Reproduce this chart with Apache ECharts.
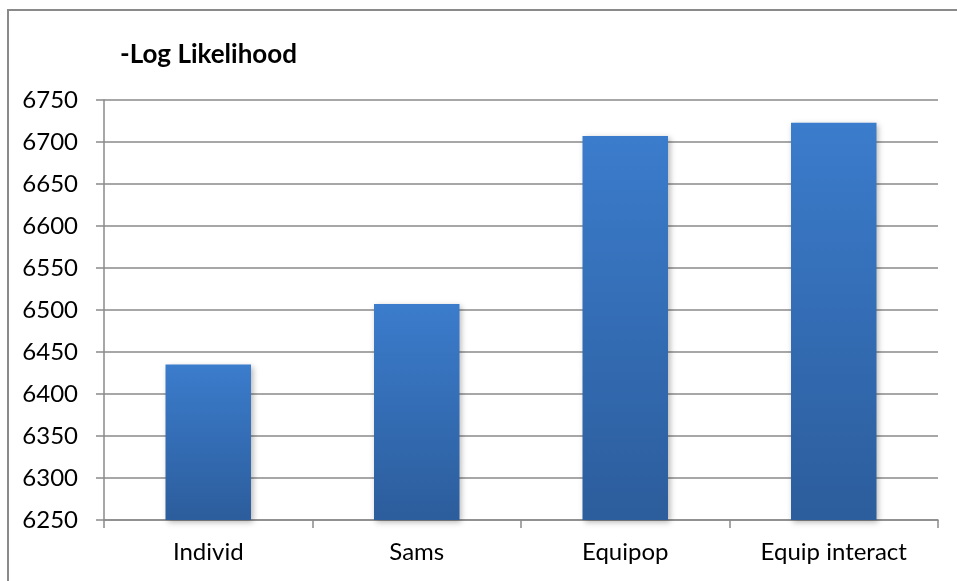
<!DOCTYPE html>
<html>
<head>
<meta charset="utf-8">
<script src="https://cdn.jsdelivr.net/npm/echarts@6/dist/echarts.min.js"></script>
<style>
  html, body { margin: 0; padding: 0; background: #fff; }
  #chart { width: 957px; height: 581px; }
</style>
</head>
<body>
<div id="chart"></div>
<script>
// data
var categories = ['Individ', 'Sams', 'Equipop', 'Equip interact']
var values = [6435, 6507, 6707, 6723]
var yMin = 6250
var yMax = 6750
var yStep = 50

var chart = echarts.init(document.getElementById('chart'))

chart.setOption({
  backgroundColor: '#ffffff',
  animation: false,
  textStyle: { fontFamily: 'Lato' },
  title: {
    text: '-Log Likelihood',
    left: 115,
    top: 37,
    textStyle: {
      fontFamily: 'Lato',
      fontWeight: 'bold',
      fontSize: 26,
      color: '#000'
    }
  },
  graphic: [{
    type: 'rect',
    shape: { x: 8, y: 10, width: 960, height: 600 },
    style: { fill: 'none', stroke: '#8a8a8a', lineWidth: 2 },
    z: -1
  }],
  grid: {
    left: 104,
    right: 19,
    top: 100,
    bottom: 61
  },
  xAxis: {
    type: 'category',
    data: categories,
    axisLine: { lineStyle: { color: '#8a8a8a', width: 1.5 } },
    axisTick: { show: true, length: 8, lineStyle: { color: '#8a8a8a', width: 1.5 } },
    axisLabel: { fontSize: 24, color: '#000', margin: 20 }
  },
  yAxis: {
    type: 'value',
    min: yMin,
    max: yMax,
    interval: yStep,
    axisLine: { show: true, lineStyle: { color: '#8a8a8a', width: 1.5 } },
    axisTick: { show: true, length: 8, lineStyle: { color: '#8a8a8a', width: 1.5 } },
    axisLabel: {
      fontSize: 24,
      color: '#000',
      margin: 26,
      formatter: function (v) { return String(v) }
    },
    splitLine: { lineStyle: { color: '#8a8a8a', width: 1.5 } }
  },
  series: [{
    type: 'bar',
    data: values,
    barWidth: '41%',
    itemStyle: {
      color: new echarts.graphic.LinearGradient(0, 0, 0, 1, [
        { offset: 0, color: '#3b7ccc' },
        { offset: 1, color: '#2c5d9c' }
      ]),
      shadowColor: 'rgba(0, 0, 0, 0.3)',
      shadowBlur: 6,
      shadowOffsetX: 2,
      shadowOffsetY: 2
    }
  }]
})
</script>
</body>
</html>
